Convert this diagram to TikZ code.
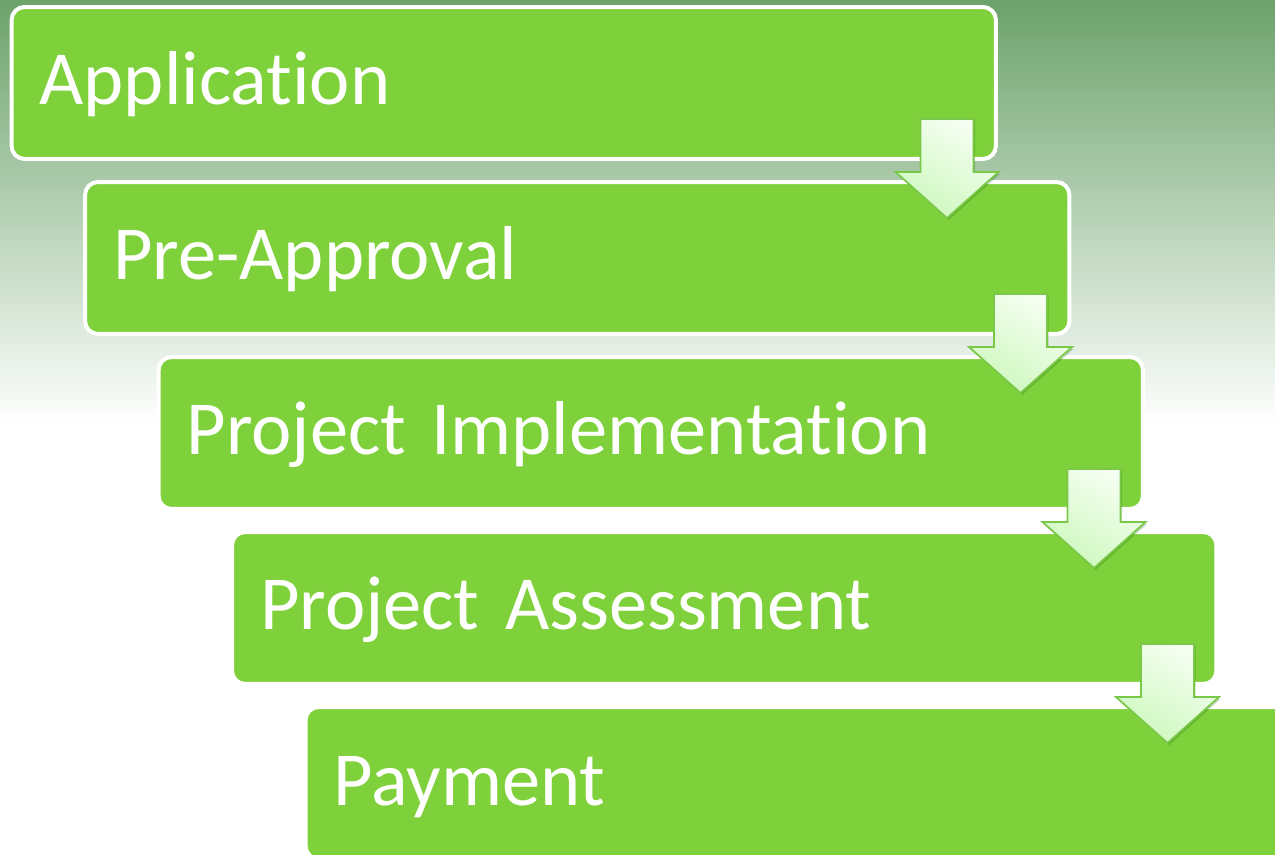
\documentclass[tikz,border=0pt]{standalone}
\usepackage{fontspec}
\setmainfont{Carlito}[RawFeature=-liga]
\usetikzlibrary{shadows}

\definecolor{fondo}{RGB}{108,162,107}
\definecolor{verde}{RGB}{127,209,59}
\definecolor{flechaborde}{RGB}{122,200,72}
\definecolor{flechaclara}{RGB}{246,255,243}
\definecolor{flechaoscura}{RGB}{206,248,190}

\tikzset{
	caja/.style={rectangle, rounded corners=0.26cm, draw=white, line width=0.08cm,
		fill=verde, text=white, minimum width=19.69cm, minimum height=3.04cm,
		text width=18.57cm, align=left, inner xsep=0.56cm, inner ysep=0pt,
		text height=1.0cm, text depth=0.12cm,
		font=\fontsize{43.5}{52}\selectfont},
	flecha/.style={draw=flechaborde, line width=0.035cm, line join=miter,
		top color=flechaclara, bottom color=flechaoscura, shading angle=-30,
		drop shadow={shadow xshift=0.03cm, shadow yshift=-0.04cm, opacity=0.22, fill=black!70!green}}
}

\begin{document}
\begin{tikzpicture}[x=0.02cm, y=-0.02cm]

	\useasboundingbox (0,0) rectangle (1275,855);
	\clip (0,0) rectangle (1275,855);

	% Fondo
	\fill[white] (0,0) rectangle (1275,855);
	\fill[top color=fondo, bottom color=white] (0,0) rectangle (1275,425);

	% Etapas
	\node[caja] (solicitud) at (503.75,83) {Application};
	\node[caja] (preaprobacion) at (577.25,258) {Pre-Approval};
	\node[caja] (implementacion) at (650.75,433) {Project Implementation};
	\node[caja] (evaluacion) at (724.25,608) {Project Assessment};
	\node[caja] (pago) at (797.75,783) {Payment};

	% Flechas
	\foreach \i in {0,...,3}{
		\draw[flecha] ({947+73.5*\i},{119+175*\i}) ++(-26.5,0) -- ++(53,0) -- ++(0,53)
			-- ++(25,0) -- ++(-51.5,46) -- ++(-51.5,-46) -- ++(25,0) -- cycle;
	}

\end{tikzpicture}
\end{document}
